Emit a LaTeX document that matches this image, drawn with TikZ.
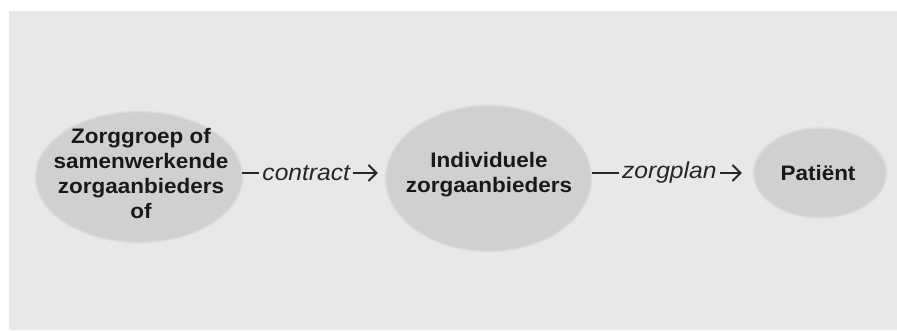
\documentclass[tikz,border=0pt]{standalone}
\usepackage{fontspec}
\setmainfont{Liberation Sans}[FakeStretch=1.07]
\usetikzlibrary{arrows.meta, shapes.geometric}
\definecolor{backdrop}{HTML}{E8E8E8}
\definecolor{bubble}{HTML}{D0D0D0}
\tikzstyle{party} = [ellipse, fill=bubble, draw=bubble!50!backdrop, line width=1.5pt, inner sep=0pt]
\tikzstyle{partytext} = [align=center, inner sep=0pt, text=black!90, font=\fontsize{21}{25}\selectfont\bfseries]
\tikzstyle{flow} = [-{Straight Barb[length=8pt, width=16pt]}, line width=1.8pt, black!85]
\tikzstyle{flowtext} = [fill=backdrop, inner xsep=3.5pt, inner ysep=2pt, text=black!85, font=\fontsize{23}{27}\selectfont\itshape]

\begin{document}
\begin{tikzpicture}[x=1pt, y=-1pt]
    \useasboundingbox (0, 0) rectangle (897, 331);

    % Backdrop.
    \fill [backdrop] (9, 11) rectangle (897, 330);

    % Parties.
    \node (zorggroep) [party, minimum width=207pt, minimum height=131pt] at (139, 177) {};
    \node (individueel) [party, minimum width=206pt, minimum height=146pt] at (488.5, 178.5) {};
    \node (patient) [party, minimum width=133pt, minimum height=90pt] at (820, 173) {};

    \node (zorggroep text) [partytext] at (141, 173) {Zorggroep of\\samenwerkende\\zorgaanbieders\\of};
    \node (individueel text) [partytext] at (489, 175) {Individuele\\zorgaanbieders};
    \node (patient text) [partytext] at (818, 172.5) {Patiënt};

    % Agreements between the parties.
    \draw [flow, shorten <=-1pt, shorten >=7pt] (zorggroep.east |- patient) -- node [flowtext, pos=0.445] {contract} (individueel.west |- patient);
    \draw [flow, shorten >=11pt] (individueel.east |- patient) -- node [flowtext, pos=0.48] {zorgplan} (patient.west);
\end{tikzpicture}
\end{document}
